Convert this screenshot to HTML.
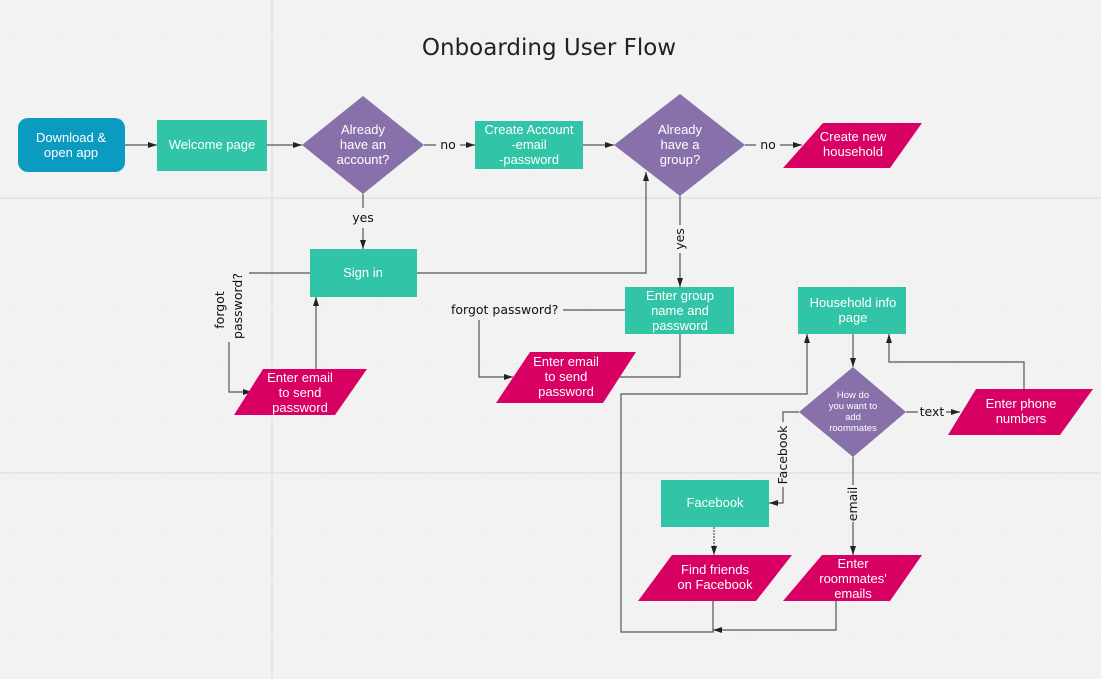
<!DOCTYPE html>
<html><head><meta charset="utf-8"><style>
html,body{margin:0;padding:0;background:#f2f2f2;}
svg{display:block;}
.w{font-family:"Liberation Sans",Arial,sans-serif;fill:#fff;text-anchor:middle;font-size:13px;}
.l{font-family:"DejaVu Sans","Liberation Sans",sans-serif;fill:#111;font-size:12.5px;}
.c{stroke:#555;stroke-width:1.2;fill:none;}
</style></head><body>
<svg width="1101" height="679" viewBox="0 0 1101 679" xmlns="http://www.w3.org/2000/svg">
<defs>
<pattern id="g" x="10" y="33" width="52.4" height="55" patternUnits="userSpaceOnUse">
<path d="M0 0V55M0 0H52.4" stroke="#eaeaea" stroke-width="1" fill="none"/>
</pattern>
<marker id="a" markerWidth="10" markerHeight="8" refX="9" refY="4" orient="auto" markerUnits="userSpaceOnUse">
<path d="M0 1L9 4L0 7z" fill="#222"/>
</marker>
</defs>
<rect width="1101" height="679" fill="#f2f2f2"/>
<rect width="1101" height="679" fill="url(#g)"/>
<path d="M272 0V679M0 198H1101M0 473H1101" stroke="#e5e5e5" stroke-width="2"/>

<text x="549" y="55" font-family="'DejaVu Sans','Liberation Sans',sans-serif" font-size="23" fill="#222" text-anchor="middle">Onboarding User Flow</text>

<!-- connectors -->
<g class="c">
<path d="M125 145H157" marker-end="url(#a)"/>
<path d="M267 145H302" marker-end="url(#a)"/>
<path d="M424 145H436M460 145H475" marker-end="url(#a)"/>
<path d="M583 145H614" marker-end="url(#a)"/>
<path d="M745 145H756M780 145H802" marker-end="url(#a)"/>
<path d="M363 194V208M363 228V249" marker-end="url(#a)"/>
<path d="M310 273H249"/>
<path d="M229 342V392H252" marker-end="url(#a)"/>
<path d="M316 369V297" marker-end="url(#a)"/>
<path d="M417 273H646V172" marker-end="url(#a)"/>
<path d="M680 196V225M680 253V287" marker-end="url(#a)"/>
<path d="M625 310H563"/>
<path d="M479 320V377H513" marker-end="url(#a)"/>
<path d="M680 334V377H620"/>
<path d="M853 334V367" marker-end="url(#a)"/>
<path d="M1024 389V362H889V334" marker-end="url(#a)"/>
<path d="M906 412H918M946 412H960" marker-end="url(#a)"/>
<path d="M799 412H783V422M783 487V503H769" marker-end="url(#a)"/>
<path d="M853 457V485M853 522V555" marker-end="url(#a)"/>
<path d="M714 527V555" marker-end="url(#a)" stroke-dasharray="2 1"/>
<path d="M713 601V632H621V394H807V334" marker-end="url(#a)"/>
<path d="M836 601V630H713" marker-end="url(#a)"/>
</g>

<!-- shapes -->
<rect x="18" y="118" width="107" height="54" rx="10" fill="#0b9bc1"/>
<rect x="157" y="120" width="110" height="51" fill="#31c4a6"/>
<polygon points="363,96 424,145 363,194 302,145" fill="#8870aa"/>
<rect x="475" y="121" width="108" height="48" fill="#31c4a6"/>
<polygon points="680,94 745,145 680,196 614,145" fill="#8870aa"/>
<polygon points="823,123 922,123 890,168 783,168" fill="#d80062"/>
<rect x="310" y="249" width="107" height="48" fill="#31c4a6"/>
<polygon points="263,369 367,369 335,415 234,415" fill="#d80062"/>
<rect x="625" y="287" width="109" height="47" fill="#31c4a6"/>
<polygon points="530,352 636,352 603,403 496,403" fill="#d80062"/>
<rect x="798" y="287" width="108" height="47" fill="#31c4a6"/>
<polygon points="853,367 906,412 853,457 799,412" fill="#8870aa"/>
<polygon points="976,389 1093,389 1060,435 948,435" fill="#d80062"/>
<rect x="661" y="480" width="108" height="47" fill="#31c4a6"/>
<polygon points="672,555 792,555 756,601 638,601" fill="#d80062"/>
<polygon points="822,555 922,555 890,601 783,601" fill="#d80062"/>

<!-- shape text -->
<g class="w">
<text x="71" y="142">Download &amp;</text><text x="71" y="157">open app</text>
<text x="212" y="149">Welcome page</text>
<text x="363" y="134">Already</text><text x="363" y="149">have an</text><text x="363" y="164">account?</text>
<text x="529" y="134">Create Account</text><text x="529" y="149">-email</text><text x="529" y="164">-password</text>
<text x="680" y="134">Already</text><text x="680" y="149">have a</text><text x="680" y="164">group?</text>
<text x="853" y="141">Create new</text><text x="853" y="156">household</text>
<text x="363" y="277">Sign in</text>
<text x="300" y="382">Enter email</text><text x="300" y="397">to send</text><text x="300" y="412">password</text>
<text x="680" y="300">Enter group</text><text x="680" y="315">name and</text><text x="680" y="330">password</text>
<text x="566" y="366">Enter email</text><text x="566" y="381">to send</text><text x="566" y="396">password</text>
<text x="853" y="307">Household info</text><text x="853" y="322">page</text>
<g font-size="9.5"><text x="853" y="398">How do</text><text x="853" y="409">you want to</text><text x="853" y="420">add</text><text x="853" y="431">roommates</text></g>
<text x="1021" y="408">Enter phone</text><text x="1021" y="423">numbers</text>
<text x="715" y="507">Facebook</text>
<text x="715" y="574">Find friends</text><text x="715" y="589">on Facebook</text>
<text x="853" y="568">Enter</text><text x="853" y="583">roommates'</text><text x="853" y="598">emails</text>
</g>

<!-- labels -->
<g class="l">
<text x="448" y="149" text-anchor="middle">no</text>
<text x="768" y="149" text-anchor="middle">no</text>
<text x="363" y="222" text-anchor="middle">yes</text>
<text x="932" y="416" text-anchor="middle">text</text>
<text x="451" y="314">forgot password?</text>
<text transform="translate(224,310) rotate(-90)" text-anchor="middle">forgot</text>
<text transform="translate(242,306) rotate(-90)" text-anchor="middle">password?</text>
<text transform="translate(684,239) rotate(-90)" text-anchor="middle">yes</text>
<text transform="translate(787,455) rotate(-90)" text-anchor="middle">Facebook</text>
<text transform="translate(857,504) rotate(-90)" text-anchor="middle">email</text>
</g>
</svg>
</body></html>
